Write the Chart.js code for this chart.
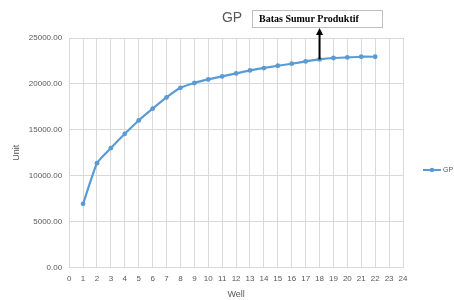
<!DOCTYPE html>
<html>
<head>
<meta charset="utf-8">
<script src="https://cdn.jsdelivr.net/npm/chart.js@4"></script>
<style>
    html, body { margin: 0; padding: 0; background: #fff; }
    #wrap { width: 454px; height: 300px; position: relative; }
</style>
</head>
<body>
<div id="wrap"><canvas id="gpChart"></canvas></div>
<script>
const wells = [1, 2, 3, 4, 5, 6, 7, 8, 9, 10, 11, 12, 13, 14, 15, 16, 17, 18, 19, 20, 21, 22];
const gpValues = [6940, 11370, 13010, 14570, 16020, 17300, 18530, 19580, 20100, 20490, 20820, 21140,
    21470, 21730, 21980, 22200, 22450, 22670, 22820, 22890, 22960, 22960];
const seriesName = 'GP';
const chartTitle = 'GP';
const boxText = 'Batas Sumur Produktif';
const markedWell = 18;

const blue = '#5b9bd5';
const grey = '#595959';
const gridCol = '#d9d9d9';

// title, annotation box with arrow and the legend, drawn by hand
const extras = {
    id: 'extras',
    afterDraw(chart) {
        const ctx = chart.ctx;
        const xs = chart.scales.x, ys = chart.scales.y;
        ctx.save();

        ctx.fillStyle = grey;
        ctx.font = '14px "Liberation Sans", Arial, sans-serif';
        ctx.textAlign = 'center';
        ctx.textBaseline = 'middle';
        ctx.fillText(chartTitle, 232, 18);

        ctx.fillStyle = '#fff';
        ctx.fillRect(252.5, 10.5, 130, 17);
        ctx.strokeStyle = '#bfbfbf';
        ctx.lineWidth = 1;
        ctx.strokeRect(252.5, 10.5, 130, 17);
        ctx.fillStyle = '#000';
        ctx.font = 'bold 10px "Liberation Serif", "Times New Roman", serif';
        ctx.textAlign = 'left';
        ctx.fillText(boxText, 259, 19.5);

        const ax = xs.getPixelForValue(markedWell);
        const ay = ys.getPixelForValue(gpValues[wells.indexOf(markedWell)]);
        ctx.strokeStyle = '#000';
        ctx.lineWidth = 2;
        ctx.beginPath();
        ctx.moveTo(ax, ay);
        ctx.lineTo(ax, 33);
        ctx.stroke();
        ctx.fillStyle = '#000';
        ctx.beginPath();
        ctx.moveTo(ax, 28);
        ctx.lineTo(ax - 3.5, 35);
        ctx.lineTo(ax + 3.5, 35);
        ctx.closePath();
        ctx.fill();

        // legend
        ctx.strokeStyle = blue;
        ctx.lineWidth = 2;
        ctx.beginPath();
        ctx.moveTo(423, 170);
        ctx.lineTo(441, 170);
        ctx.stroke();
        ctx.fillStyle = blue;
        ctx.beginPath();
        ctx.arc(432, 170, 2.3, 0, Math.PI * 2);
        ctx.fill();
        ctx.fillStyle = grey;
        ctx.font = '7px "Liberation Sans", Arial, sans-serif';
        ctx.fillText(seriesName, 443, 170);

        ctx.restore();
    }
};

new Chart(document.getElementById('gpChart'), {
    type: 'line',
    data: {
        datasets: [{
            label: seriesName,
            data: wells.map((w, i) => ({ x: w, y: gpValues[i] })),
            borderColor: blue,
            backgroundColor: blue,
            borderWidth: 2.2,
            pointRadius: 2.4,
            pointBackgroundColor: blue,
            pointBorderWidth: 0,
            tension: 0.15
        }]
    },
    options: {
        responsive: true,
        maintainAspectRatio: false,
        animation: false,
        layout: { padding: { top: 38, right: 51, left: 11, bottom: 0 } },
        plugins: { legend: { display: false }, tooltip: { enabled: false } },
        scales: {
            x: {
                type: 'linear',
                min: 0,
                max: 24,
                grid: { color: gridCol, drawTicks: false },
                border: { color: gridCol },
                ticks: {
                    stepSize: 1,
                    autoSkip: false,
                    maxRotation: 0,
                    minRotation: 0,
                    color: grey,
                    padding: 6,
                    font: { size: 8, family: '"Liberation Sans", Arial, sans-serif' }
                },
                title: { display: true, text: 'Well', color: grey, padding: { top: 0, bottom: 0 }, font: { size: 9, family: '"Liberation Sans", Arial, sans-serif' } }
            },
            y: {
                min: 0,
                max: 25000,
                grid: { color: gridCol, drawTicks: false },
                border: { color: gridCol },
                ticks: {
                    stepSize: 5000,
                    color: grey,
                    padding: 7,
                    font: { size: 8, family: '"Liberation Sans", Arial, sans-serif' },
                    callback: v => v.toFixed(2)
                },
                title: { display: true, text: 'Unit', color: grey, padding: { top: 0, bottom: 0 }, font: { size: 9, family: '"Liberation Sans", Arial, sans-serif' } }
            }
        }
    },
    plugins: [extras]
});
</script>
</body>
</html>
